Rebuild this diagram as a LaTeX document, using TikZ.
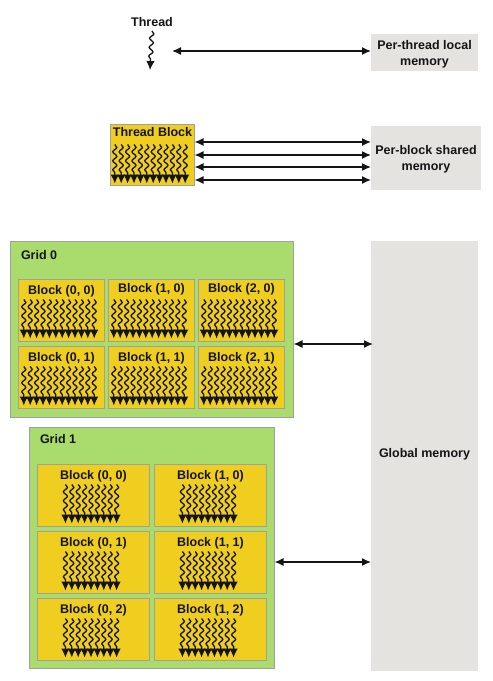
\documentclass[tikz,border=0pt]{standalone}
\usepackage{fontspec}
\setmainfont{Liberation Sans}
\usetikzlibrary{positioning, arrows.meta, decorations.pathmorphing}
\definecolor{blockyellow}{HTML}{F0CE20}
\definecolor{gridgreen}{HTML}{A9DC6C}
\definecolor{memgray}{HTML}{E5E3E0}
\definecolor{edgegray}{HTML}{A0A0A0}
\definecolor{inkdark}{HTML}{141414}
\tikzset{
    every node/.style={font=\fontsize{12.5}{15.5}\selectfont\bfseries, text=inkdark, inner sep=0pt, outer sep=0pt},
    gridbox/.style={draw=edgegray, line width=1pt, fill=gridgreen, anchor=north west},
    blockbox/.style={draw=edgegray, line width=1pt, fill=blockyellow, minimum height=62pt},
    memory/.style={fill=memgray, anchor=north west, align=center},
    link/.style={{Latex[length=9pt,width=8pt]}-{Latex[length=9pt,width=8pt]}, line width=1.4pt, inkdark},
    thread/.style={line width=1.3pt, inkdark, -{Latex[length=9pt,width=8.5pt]},
        decorate, decoration={snake, amplitude=2pt, segment length=9pt, post length=7pt}}
}
% row of n threads hanging from the top of a block
\newcommand{\threadrow}[3]{
    \foreach \i in {1,...,#2}
        \draw[thread] ([xshift={(\i-(#2+1)/2)*#3-2.5pt}, yshift=-20pt]#1.north) -- ([xshift={(\i-(#2+1)/2)*#3-2.5pt}, yshift=-59pt]#1.north);
}
\begin{document}
\begin{tikzpicture}[x=1pt, y=-1pt]
    \useasboundingbox (0,0) rectangle (493,681);

    % thread and local memory
    \node (thr) at (152,22) {Thread};
    \coordinate (thrtop) at (152,31);
    \coordinate (thrend) at (150,70);
    \draw[thread] (thrtop) -- (thrend);
    \node [memory, minimum width=107pt, minimum height=37pt, text height=28pt] (localmem) at (371,34) {Per-thread local\\memory};
    \coordinate (thrlink) at (172,51);
    \draw[link] (thrlink) -- (thrlink -| localmem.west);

    % thread block and shared memory
    \node [memory, minimum width=110pt, minimum height=64pt, text height=27pt] (sharedmem) at (371,126) {Per-block shared\\memory};
    \node [blockbox, minimum width=84pt, minimum height=61pt, label={[anchor=north, yshift=-3pt]north:Thread Block}] (tblock) at (152.5,155) {};
    \threadrow{tblock}{12}{6.4pt}
    \foreach \y in {142,155,167,180}
        \draw[link] (tblock.east |- 0,\y) -- (sharedmem.west |- 0,\y);

    % global memory
    \node [memory, minimum width=107pt, minimum height=430pt, text depth=7pt] (globalmem) at (371,241) {Global memory};

    % grid 0
    \node [gridbox, minimum width=283pt, minimum height=176pt] (grid0) at (10.5,241.5) {};
    \node [right=10.5pt of grid0.north west, anchor=west, yshift=-13.5pt] (grid0name) {Grid 0};
    \node [blockbox, minimum width=86pt, label={[anchor=north, yshift=-6pt]north:Block (0, 0)}] (a00) at (61.5,310.5) {};
    \node [blockbox, minimum width=86pt, right=4pt of a00, label={[anchor=north, yshift=-4pt]north:Block (1, 0)}] (a10) {};
    \node [blockbox, minimum width=86pt, right=4pt of a10, label={[anchor=north, yshift=-4pt]north:Block (2, 0)}] (a20) {};
    \node [blockbox, minimum width=86pt, below=5pt of a00, label={[anchor=north, yshift=-6pt]north:Block (0, 1)}] (a01) {};
    \node [blockbox, minimum width=86pt, right=4pt of a01, label={[anchor=north, yshift=-6pt]north:Block (1, 1)}] (a11) {};
    \node [blockbox, minimum width=86pt, right=4pt of a11, label={[anchor=north, yshift=-6pt]north:Block (2, 1)}] (a21) {};
    \foreach \b in {a00,a10,a20,a01,a11,a21}
        \threadrow{\b}{12}{6.4pt}
    \coordinate (grid0link) at (globalmem.west |- 0,344);
    \draw[link] (grid0.east |- grid0link) -- ([xshift=2pt]grid0link);

    % grid 1
    \node [gridbox, minimum width=245pt, minimum height=241pt] (grid1) at (29.5,427.5) {};
    \node [right=10.5pt of grid1.north west, anchor=west, yshift=-11.5pt] (grid1name) {Grid 1};
    \node [blockbox, minimum width=112pt, label={[anchor=north, yshift=-5.5pt]north:Block (0, 0)}] (c00) at (93.5,495.5) {};
    \node [blockbox, minimum width=112pt, right=5pt of c00, label={[anchor=north, yshift=-5.5pt]north:Block (1, 0)}] (c10) {};
    \node [blockbox, minimum width=112pt, below=5pt of c00, label={[anchor=north, yshift=-5.5pt]north:Block (0, 1)}] (c01) {};
    \node [blockbox, minimum width=112pt, right=5pt of c01, label={[anchor=north, yshift=-5.5pt]north:Block (1, 1)}] (c11) {};
    \node [blockbox, minimum width=112pt, below=5pt of c01, label={[anchor=north, yshift=-5.5pt]north:Block (0, 2)}] (c02) {};
    \node [blockbox, minimum width=112pt, right=5pt of c02, label={[anchor=north, yshift=-5.5pt]north:Block (1, 2)}] (c12) {};
    \foreach \b in {c00,c10,c01,c11,c02,c12}
        \threadrow{\b}{9}{6.4pt}
    \coordinate (grid1link) at (globalmem.west |- 0,562);
    \draw[link] (grid1.east |- grid1link) -- (grid1link);
\end{tikzpicture}
\end{document}
